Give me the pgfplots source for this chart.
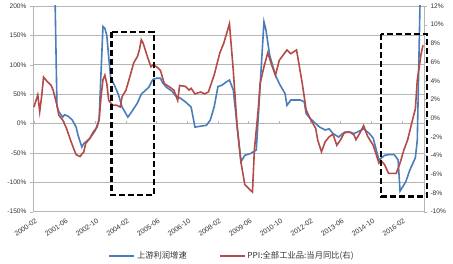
\documentclass[border=0pt]{standalone}
\usepackage{pgfplots}
\pgfplotsset{compat=1.18}
\usepackage{fontspec}
\setmainfont{Liberation Sans}
\newfontfamily\cjk{Noto Sans CJK SC}
\definecolor{bl}{HTML}{4A7EBB}
\definecolor{rd}{HTML}{B44B48}
\definecolor{gridc}{HTML}{B5B5B5}
\definecolor{txt}{HTML}{333333}
\pgfplotsset{
  common/.style={scale only axis, width=391pt, height=205.7pt, at={(0pt,0pt)}, anchor=south west,
    xmin=-0.5, xmax=203.5},
}
\begin{document}
\begin{tikzpicture}
\useasboundingbox (-33pt,-52.3pt) rectangle (420pt,211.7pt);
\begin{axis}[common,
  ymin=-150, ymax=200,
  ytick={-150,-100,-50,0,50,100,150,200},
  yticklabels={-150\%,-100\%,-50\%,0\%,50\%,100\%,150\%,200\%},
  xtick={0,16,32,48,64,80,96,112,128,144,160,176,192},
  xticklabels={2000-02,2001-06,2002-10,2004-02,2005-06,2006-10,2008-02,2009-06,2010-10,2012-02,2013-06,2014-10,2016-02},
  xticklabel style={rotate=35, anchor=north east, font=\fontsize{7}{8}\selectfont, text=txt, yshift=-2pt, inner sep=1pt},
  yticklabel style={font=\fontsize{6.6}{7}\selectfont, text=txt},
  x tick style={draw=none},
  y tick style={gridc},
  tick align=outside, major tick length=3pt,
  ymajorgrids, grid style={gridc, line width=0.6pt},
  axis line style={gridc, line width=0.6pt},
  axis y line*=left,
  legend style={at={(0.509,-0.215)}, anchor=center, draw=none, fill=none, legend columns=2,
     font=\cjk\fontsize{8.3}{9}\selectfont, text=txt,
     /tikz/every even column/.append style={column sep=30pt}},
  legend image code/.code={\draw[#1] (0pt,0pt) -- (25pt,0pt);},
]
\pgfplotsinvokeforeach{0,16,32,48,64,80,96,112,128,144,160,176,192}{
  \draw[gridc, line width=0.6pt] (axis cs:#1,0) -- ++(0pt,2.5pt);
}
\addplot[bl, line width=1.6pt] coordinates {
(10,400) (12,30) (13,20) (15,11) (16,15) (18,12) (20,6) (22,-6) (23,-20) (25,-40) (26,-34) (29,-26) (31,-14) (33,-6) (34,8) (36,165) (37,162) (38,150) (39,113) (40,79) (42,65) (44,50) (46,28) (49,11) (51,20) (54,35) (56,50) (58,56) (60,62) (62,75) (64,77) (66,77) (67,70) (69,62) (72,55) (74,47) (76,44) (79,37) (82,28) (84,-6) (90,-3) (92,6) (94,28) (96,63) (98,65) (100,70) (102,74) (104,57) (108,-65) (110,-54) (113,-51) (116,-45) (120,173) (121,160) (123,116) (126,82) (128,68) (131,51) (132,31) (134,40) (139,40) (141,37) (142,17) (144,9) (147,0) (149,-6) (152,-11) (154,-9) (156,-17) (159,-23) (161,-17) (164,-14) (167,-17) (169,-14) (172,-9) (175,-17) (177,-25) (179,-50) (180,-62) (183,-54) (185,-53) (188,-53) (190,-62) (191,-115) (194,-99) (196,-80) (199,-58) (200,-28) (202,300)
};
\addlegendentry{上游利润增速}
\addlegendimage{rd, line width=1.6pt}
\addlegendentry{PPI:全部工业品:当月同比(右)}
\end{axis}
\begin{axis}[common,
  ymin=-10, ymax=12,
  ytick={-10,-8,-6,-4,-2,0,2,4,6,8,10,12},
  yticklabels={-10\%,-8\%,-6\%,-4\%,-2\%,0\%,2\%,4\%,6\%,8\%,10\%,12\%},
  yticklabel style={font=\fontsize{6.6}{7}\selectfont, text=txt},
  axis x line=none, axis y line*=right,
  y tick style={gridc}, tick align=outside, major tick length=3pt,
  axis line style={gridc, line width=0.6pt},
]
\addplot[rd, line width=1.6pt] coordinates {
(0,1.2) (2,2.5) (3,0.7) (4,2.3) (5,4.4) (7,3.9) (9,3.5) (10,3.0) (12,1.4) (13,0.3) (15,-0.2) (17,-1.1) (19,-2.3) (21,-3.4) (22,-3.9) (24,-4.1) (26,-3.6) (27,-2.7) (29,-2.2) (32,-1.3) (34,-0.2) (35,2.3) (36,4.1) (37,4.6) (38,3.7) (39,1.9) (41,1.4) (43,1.4) (45,1.2) (46,2.3) (48,3.0) (50,4.4) (52,5.9) (54,6.6) (55,7.3) (56,8.4) (57,8.0) (59,6.7) (61,5.5) (62,5.7) (64,5.5) (66,5.1) (67,4.4) (68,3.7) (71,3.3) (73,3.0) (75,1.9) (76,3.5) (79,3.4) (81,3.0) (82,3.2) (84,2.6) (87,2.8) (89,2.6) (91,2.8) (94,4.6) (97,7.0) (99,8.0) (100,8.7) (102,10.1) (104,5.1) (106,-0.9) (108,-4.7) (110,-7.1) (114,-7.9) (115,-3.4) (117,0.9) (118,3.7) (120,5.5) (122,7.0) (124,5.7) (126,4.6) (128,6.2) (132,7.3) (134,6.9) (137,7.3) (140,3.7) (142,0.9) (144,0) (147,-1.1) (148,-2.3) (150,-3.6) (152,-2.5) (154,-2.0) (156,-1.7) (158,-2.9) (160,-2.3) (162,-1.5) (165,-1.5) (167,-1.8) (168,-2.3) (170,-1.6) (172,-0.8) (174,-1.9) (177,-2.9) (180,-4.8) (181,-4.5) (183,-5.0) (185,-5.9) (189,-5.9) (191,-4.8) (193,-3.4) (195,-2.3) (197,-0.6) (199,1.0) (200,4.1) (202,6.9) (203,7.8)
};
\end{axis}
\begin{axis}[common, ymin=-150, ymax=200, hide axis, clip=false]
\draw[black, line width=2.4pt, dash pattern=on 6pt off 3pt] (axis cs:40.4,156) rectangle (axis cs:62.6,-122);
\draw[black, line width=2.4pt, dash pattern=on 6pt off 3pt] (axis cs:181.2,152) rectangle (axis cs:205.2,-124);
\end{axis}
\end{tikzpicture}
\end{document}
